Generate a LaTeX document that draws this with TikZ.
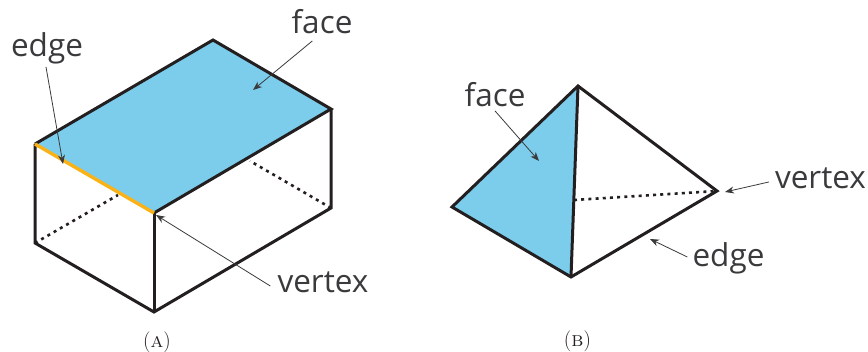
\documentclass[tikz,border=0pt]{standalone}
\usepackage{fontspec}
\setsansfont{Open Sans}
\usetikzlibrary{arrows.meta}
\definecolor{SolidInk}{HTML}{231F20}
\definecolor{SolidBlue}{HTML}{7CCDEB}
\definecolor{SolidOrange}{HTML}{FBB216}
\definecolor{SolidLabel}{HTML}{3A3A3C}

\begin{document}
\begin{tikzpicture}[
    x=1pt, y=-1pt,
    solid edge/.style={draw=SolidInk, line width=3pt, line join=miter},
    hidden edge/.style={draw=SolidInk, line width=2.6pt, dash pattern=on 3pt off 4.2pt},
    blue face/.style={fill=SolidBlue, draw=none},
    top edge/.style={draw=SolidOrange, line width=3.4pt},
    pointer/.style={-{Stealth[length=9pt,width=7pt]}, draw=SolidLabel, line width=0.8pt},
    part label/.style={font=\sffamily\fontsize{31.5}{34}\selectfont, text=SolidLabel, inner sep=0pt},
    caption label/.style={font=\rmfamily\fontsize{21}{24}\selectfont, text=SolidInk, inner sep=0pt}
]
    \useasboundingbox (0,0) rectangle (868,352);

    % box
    \coordinate (boxback) at (213,40);
    \coordinate (boxright) at (331,109);
    \coordinate (boxfront) at (154,213);
    \coordinate (boxleft) at (35,144);
    \coordinate (boxlow) at (35,243);
    \coordinate (boxbottom) at (154,312);
    \coordinate (boxlowright) at (331,208);
    \coordinate (boxhidea) at (118,195);
    \coordinate (boxhideb) at (250,161);

    \fill[blue face] (boxback) -- (boxright) -- (boxfront) -- (boxleft) -- cycle;
    \draw[hidden edge] (boxlow) -- (boxhidea);
    \draw[hidden edge] (boxlowright) -- (boxhideb);
    \draw[solid edge] (boxleft) -- (boxback) -- (boxright) -- (boxfront);
    \draw[solid edge] (boxright) -- (boxlowright) -- (boxbottom) -- (boxlow) -- (boxleft);
    \draw[solid edge] (boxfront) -- (boxbottom);
    \draw[top edge] (boxleft) -- (boxfront);

    \node[part label] (faceA) at (322,22) {face};
    \node[part label] (edgeA) at (47,48) {edge};
    \node[part label] (vertexA) at (323,282.5) {vertex};
    \coordinate (faceAtip) at (253,90);
    \coordinate (edgeAtip) at (63,164);
    \coordinate (vertexAtip) at (156,215);
    \draw[pointer] (faceA.south west) ++(21,6.5) -- (faceAtip);
    \draw[pointer] (edgeA.south) ++(-1,3) -- (edgeAtip);
    \draw[pointer] (vertexA.west) ++(-7,3.5) -- (vertexAtip);

    % pyramid
    \coordinate (pyrtop) at (578,86);
    \coordinate (pyrleft) at (452,207);
    \coordinate (pyrbottom) at (571,277);
    \coordinate (pyrright) at (717,191);
    \coordinate (pyrhide) at (574,200);

    \fill[blue face] (pyrtop) -- (pyrleft) -- (pyrbottom) -- cycle;
    \draw[hidden edge] (pyrhide) -- (pyrright);
    \draw[solid edge] (pyrtop) -- (pyrleft) -- (pyrbottom) -- (pyrright) -- cycle;
    \draw[solid edge] (pyrtop) -- (pyrbottom);

    \node[part label] (faceB) at (495,94.5) {face};
    \node[part label] (vertexB) at (820.5,178) {vertex};
    \node[part label] (edgeB) at (728.5,258.5) {edge};
    \coordinate (faceBtip) at (539,161);
    \coordinate (vertexBtip) at (725,192);
    \coordinate (edgeBtip) at (650,239);
    \draw[pointer] (faceB.south) ++(0,4) -- (faceBtip);
    \draw[pointer] (vertexB.west) ++(-6,4) -- (vertexBtip);
    \draw[pointer] (edgeB.west) ++(-5,-1.5) -- (edgeBtip);

    \node[caption label] (capA) at (157,342) {(\textsc{a})};
    \node[caption label] (capB) at (577.5,341.5) {(\textsc{b})};
\end{tikzpicture}
\end{document}
